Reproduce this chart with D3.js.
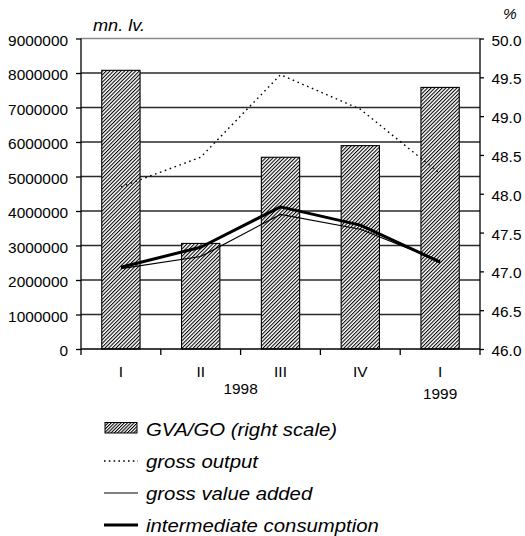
<!DOCTYPE html>
<html>
<head>
<meta charset="utf-8">
<script src="https://cdn.jsdelivr.net/npm/d3@7"></script>
<style>
  body { margin: 0; background: #fff; }
  text { font-family: "Liberation Sans", Arial, sans-serif; fill: #000; }
</style>
</head>
<body>
<svg id="chart" width="525" height="536"></svg>
<script>
// Quarterly categories and the year each group of quarters belongs to
const quarters = ["I", "II", "III", "IV", "I"];
const years = [
  { label: "1998", first: 0, last: 3 },
  { label: "1999", first: 4, last: 4 }
];

// GVA / GO ratio, % (right scale)
const gvaGoRatio = [49.59, 47.36, 48.47, 48.62, 49.37];
// Levels, mn. lv. (left scale)
const grossOutput = [4700000, 5560000, 7950000, 6950000, 5080000];
const grossValueAdded = [2330000, 2680000, 3900000, 3470000, 2550000];
const intermediateConsumption = [2370000, 2950000, 4120000, 3590000, 2520000];

// Tick values of both vertical axes
const leftTicks = [0, 1000000, 2000000, 3000000, 4000000, 5000000, 6000000, 7000000, 8000000, 9000000];
const rightTicks = [46.0, 46.5, 47.0, 47.5, 48.0, 48.5, 49.0, 49.5, 50.0];

const legendItems = [
  { label: "GVA/GO (right scale)", kind: "bar" },
  { label: "gross output", kind: "dotted" },
  { label: "gross value added", kind: "thin" },
  { label: "intermediate consumption", kind: "thick" }
];

const svg = d3.select("#chart");
const plot = { left: 81, right: 480, top: 38.5, bottom: 349 };
const SX = 1.1; // horizontal stretch of the lettering

const x = d3.scaleBand()
  .domain(d3.range(quarters.length))
  .range([plot.left, plot.right])
  .paddingInner(0.52)
  .paddingOuter(0.26);
const xc = i => x(i) + x.bandwidth() / 2;
const yLeft = d3.scaleLinear().domain([0, 9000000]).range([plot.bottom, plot.top]);
const yRight = d3.scaleLinear().domain([46, 50]).range([plot.bottom, plot.top]);

// hatch pattern for the ratio bars
const defs = svg.append("defs");
function hatch(id, gap) {
  const p = defs.append("pattern")
    .attr("id", id)
    .attr("patternUnits", "userSpaceOnUse")
    .attr("width", gap).attr("height", 10)
    .attr("patternTransform", "rotate(45)");
  p.append("rect").attr("width", gap).attr("height", 10).attr("fill", "#fff");
  p.append("rect").attr("x", 0).attr("width", 1.05).attr("height", 10).attr("fill", "#000");
}
hatch("hatch", 2.6);
hatch("hatchSmall", 2.3);

function stretchText(sel) {
  sel.each(function () {
    const t = d3.select(this);
    const tx = +t.attr("x") || 0;
    t.attr("x", 0).attr("transform", `translate(${tx},0) scale(${SX},1)`);
  });
}

// horizontal gridlines on the left scale
svg.append("g")
  .selectAll("line")
  .data(leftTicks.filter(d => d > 0))
  .join("line")
  .attr("x1", plot.left).attr("x2", plot.right)
  .attr("y1", d => yLeft(d)).attr("y2", d => yLeft(d))
  .attr("stroke", d => d === 9000000 ? "#8a8a8a" : "#2a2a2a")
  .attr("stroke-width", 1.4);

// ratio bars
svg.append("g")
  .selectAll("rect")
  .data(gvaGoRatio)
  .join("rect")
  .attr("x", (d, i) => x(i))
  .attr("width", x.bandwidth())
  .attr("y", d => yRight(d))
  .attr("height", d => yRight(46) - yRight(d))
  .attr("fill", "url(#hatch)")
  .attr("stroke", "#000")
  .attr("stroke-width", 1.1);

// lines
const line = d3.line().x((d, i) => xc(i)).y(d => yLeft(d));
svg.append("path").datum(grossOutput).attr("d", line)
  .attr("fill", "none").attr("stroke", "#000").attr("stroke-width", 1.4)
  .attr("stroke-dasharray", "1.6,3.6");
svg.append("path").datum(grossValueAdded).attr("d", line)
  .attr("fill", "none").attr("stroke", "#000").attr("stroke-width", 1.2);
svg.append("path").datum(intermediateConsumption).attr("d", line)
  .attr("fill", "none").attr("stroke", "#000").attr("stroke-width", 3)
  .attr("stroke-linejoin", "round");

// left axis
const gL = svg.append("g").attr("transform", `translate(${plot.left},0)`)
  .call(d3.axisLeft(yLeft).tickValues(leftTicks).tickFormat(d3.format("d"))
    .tickSize(5).tickPadding(8).tickSizeOuter(0));
gL.select(".domain").remove();
gL.selectAll("line").attr("stroke", "#000").attr("stroke-width", 1.3);
gL.selectAll("text").attr("font-size", 14).attr("dy", 6.5).call(stretchText);
svg.append("line").attr("x1", plot.left).attr("x2", plot.left)
  .attr("y1", plot.top).attr("y2", plot.bottom + 6)
  .attr("stroke", "#000").attr("stroke-width", 1.3);

// right axis
const gR = svg.append("g").attr("transform", `translate(${plot.right},0)`)
  .call(d3.axisRight(yRight).tickValues(rightTicks).tickFormat(d3.format(".1f"))
    .tickSize(4).tickPadding(7.5).tickSizeOuter(0));
gR.select(".domain").remove();
gR.selectAll("line").attr("stroke", "#000").attr("stroke-width", 1.3);
gR.selectAll("text").attr("font-size", 14).attr("dy", 6.5).call(stretchText);
svg.append("line").attr("x1", plot.right).attr("x2", plot.right)
  .attr("y1", plot.top).attr("y2", plot.bottom)
  .attr("stroke", "#000").attr("stroke-width", 1.3);

// category axis
svg.append("line").attr("x1", plot.left).attr("x2", plot.right)
  .attr("y1", plot.bottom).attr("y2", plot.bottom)
  .attr("stroke", "#000").attr("stroke-width", 1.3);
const bounds = d3.range(1, quarters.length + 1).map(i => plot.left + i * x.step());
svg.append("g").selectAll("line").data(bounds).join("line")
  .attr("x1", d => d).attr("x2", d => d)
  .attr("y1", plot.bottom).attr("y2", plot.bottom + 6)
  .attr("stroke", "#000").attr("stroke-width", 1.3);

function label(parent, text, tx, ty, opts = {}) {
  return parent.append("text")
    .attr("transform", `translate(${tx},${ty}) scale(${SX},1)`)
    .attr("text-anchor", opts.anchor || "start")
    .attr("font-size", opts.size || 14)
    .attr("font-style", opts.italic ? "italic" : null)
    .text(text);
}

quarters.forEach((q, i) => label(svg, q, xc(i), 377, { anchor: "middle" }));
years.forEach(yr => {
  const cx = (x(yr.first) + x(yr.last) + x.bandwidth()) / 2;
  label(svg, yr.label, cx, yr.last === yr.first ? 399 : 394, { anchor: "middle" });
});

// units
label(svg, "mn. lv.", 93, 30.5, { italic: true, size: 16.5 });
label(svg, "%", 503, 19, { italic: true, size: 14 });

// legend
const lg = svg.append("g");
const rowY = [429, 461, 493, 525];
legendItems.forEach((it, i) => {
  if (it.kind === "bar") {
    lg.append("rect").attr("x", 105).attr("y", rowY[i] - 6.5).attr("width", 32).attr("height", 10.5)
      .attr("fill", "url(#hatchSmall)").attr("stroke", "#000").attr("stroke-width", 1);
  } else {
    lg.append("line").attr("x1", 104).attr("x2", 138)
      .attr("y1", rowY[i]).attr("y2", rowY[i])
      .attr("stroke", "#000")
      .attr("stroke-width", it.kind === "thick" ? 3 : it.kind === "thin" ? 1.2 : 1.4)
      .attr("stroke-dasharray", it.kind === "dotted" ? "1.6,3.2" : null);
  }
  label(lg, it.label, 146, rowY[i] + 6.5, { italic: true, size: 18.5 });
});
</script>
</body>
</html>
